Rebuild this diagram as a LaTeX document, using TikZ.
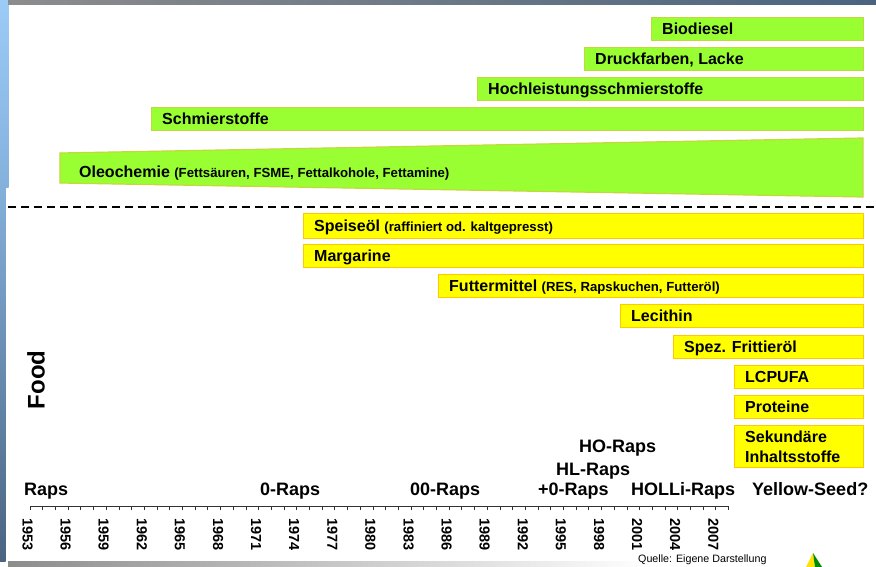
\documentclass[tikz,border=0pt]{standalone}
\usepackage{fontspec}
\setmainfont{Liberation Sans}
\usetikzlibrary{positioning}
\definecolor{gruen}{HTML}{99FF33}
\definecolor{gruenrand}{HTML}{C3D83A}
\definecolor{gelb}{HTML}{FFFF00}
\definecolor{gelbrand}{HTML}{FFC800}
\definecolor{blauhell}{HTML}{9CCBF7}
\definecolor{blaumitte}{HTML}{84B0DC}
\definecolor{blaudunkel}{HTML}{4A6480}
\newcommand{\klein}[1]{{\fontsize{13.2}{15}\selectfont #1}}

\begin{document}
\begin{tikzpicture}[x=1pt, y=-1pt,
        gbar/.style={fill=gruen, draw=gruenrand, line width=1.2pt},
        ybar/.style={fill=gelb, draw=gelbrand, line width=1.2pt},
        lbl/.style={inner sep=0pt, align=left, text depth=0pt, font=\fontsize{16}{20}\selectfont\bfseries},
        sorte/.style={inner sep=0pt, anchor=base west, font=\fontsize{18}{22}\selectfont\bfseries},
        jahr/.style={inner sep=0pt, rotate=-90, anchor=west, font=\fontsize{14.5}{16}\selectfont\bfseries}]
        \useasboundingbox (0,0) rectangle (876,567);
        \fill[white] (0,0) rectangle (876,567);

        \shade[top color=blauhell, bottom color=blaumitte] (0,0) rectangle (8.5,188);
        \shade[top color=blaumitte, bottom color=blaudunkel] (0,188) rectangle (5.5,561);
        \shade[left color=black!45, middle color={rgb,255:red,180;green,188;blue,198}, right color=blaudunkel] (8,0) rectangle (876,5);
        \shade[left color=black!45, right color=white] (8,561) rectangle (650,567);

        \foreach \nm/\x/\oben/\unten/\txt in {bio/651/17/40/Biodiesel, druck/584/47/70/{Druckfarben, Lacke}, hoch/477/77/100/Hochleistungsschmierstoffe, schmier/151/107/130/Schmierstoffe} {
        \pgfmathsetmacro{\breite}{863-\x}
        \pgfmathsetmacro{\hoehe}{\unten-\oben}
        \node[gbar, anchor=north west, minimum width=\breite pt, minimum height=\hoehe pt, inner sep=0pt] (\nm) at (\x,\oben) {};
        \node[lbl, right=11pt of \nm.west] (\nm-t) {\txt};
        }

        \coordinate (o1) at (60,153);
        \coordinate (o2) at (863,138);
        \coordinate (o3) at (863,197);
        \coordinate (o4) at (60,183);
        \filldraw[gbar] (o1) -- (o2) -- (o3) -- (o4) -- cycle;
        \node[lbl, anchor=base west] (oleo-t) at (79,178) {Oleochemie \klein{(Fettsäuren, FSME, Fettalkohole, Fettamine)}};

        \draw[line width=2pt, dash pattern=on 7.5pt off 5.5pt] (8,207) -- (876,207);

        \foreach \nm/\x/\oben/\unten/\txt in {speise/303/213/238/{Speiseöl \klein{(raffiniert od. kaltgepresst)}}, marg/303/244/267/Margarine, futter/438/274/297/{Futtermittel \klein{(RES, Rapskuchen, Futteröl)}}, leci/620/304/327/Lecithin, fritt/673/335/358/{Spez. Frittieröl}, lcp/734/365/388/LCPUFA, prot/734/395/418/Proteine, sek/734/425/467/{Sekundäre\\Inhaltsstoffe}} {
        \pgfmathsetmacro{\breite}{863-\x}
        \pgfmathsetmacro{\hoehe}{\unten-\oben}
        \node[ybar, anchor=north west, minimum width=\breite pt, minimum height=\hoehe pt, inner sep=0pt] (\nm) at (\x,\oben) {};
        \node[lbl, right=11pt of \nm.west] (\nm-t) {\txt};
        }

        \node[rotate=90, inner sep=0pt, font=\fontsize{24}{24}\selectfont\bfseries] (food) at (36,380) {Food};

        \node[sorte] (raps) at (24,495) {Raps};
        \node[sorte] (nullraps) at (260,495) {0-Raps};
        \node[sorte] (doppelnull) at (410,495) {00-Raps};
        \node[sorte] (plusnull) at (538,495) {+0-Raps};
        \node[sorte] (hl) at (556,475) {HL-Raps};
        \node[sorte] (ho) at (579,452) {HO-Raps};
        \node[sorte] (holli) at (631,495) {HOLLi-Raps};
        \node[sorte] (yellow) at (752,495) {Yellow-Seed?};

        \pgfmathsetmacro{\jahrbreite}{12.7}
        \draw[line width=0.8pt, black!80] (30,506) -- (728.5,506);
        \foreach \i in {0,...,55} {
        \draw[line width=0.8pt, black!80] ({30+\i*\jahrbreite},506) -- ++(0,4);
        }
        \foreach \j in {1953,1956,...,2007} {
        \node[jahr] (j\j) at ({30+(\j-1953)*\jahrbreite-2.5},518) {\j};
        }

        \node[inner sep=0pt, anchor=base west, font=\fontsize{10.7}{12}\selectfont] (quelle) at (638,562) {Quelle: Eigene Darstellung};

        \fill[yellow!85!orange] (806,567) -- (813,553) -- (815,567) -- cycle;
        \fill[green!55!black] (813,553) -- (822,567) -- (815,567) -- cycle;
\end{tikzpicture}
\end{document}
